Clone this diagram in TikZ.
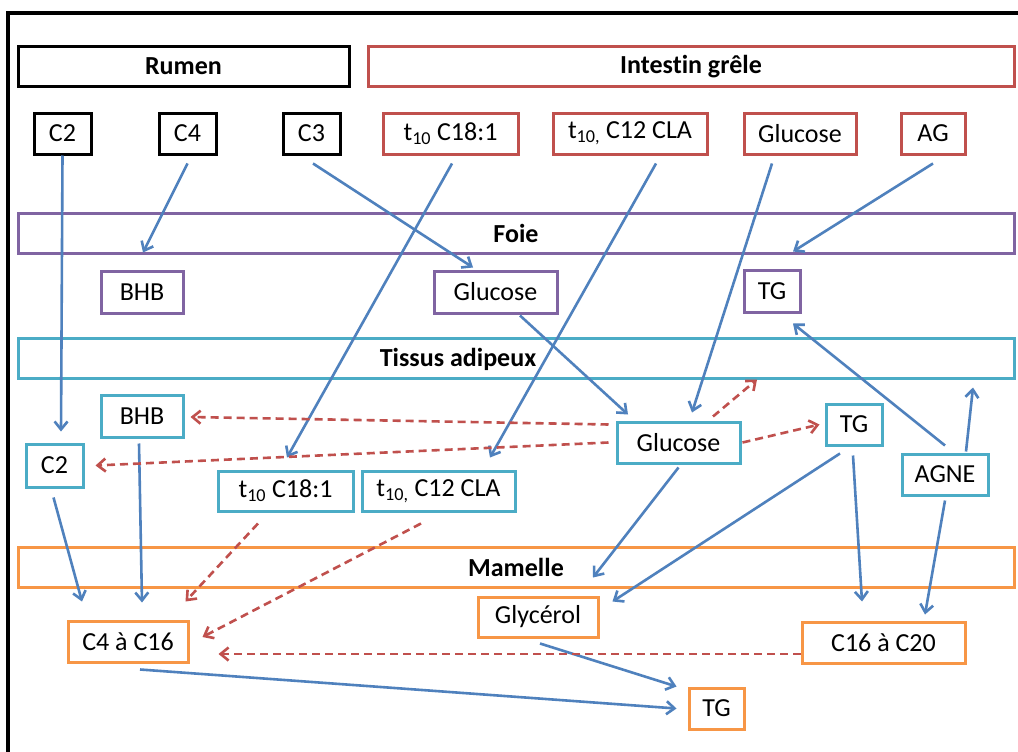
\documentclass[tikz,border=0pt]{standalone}
\usepackage{fontspec}
\setmainfont{Carlito}[Ligatures=NoCommon]
\usetikzlibrary{arrows.meta}
\definecolor{cred}{HTML}{C0504D}
\definecolor{cpurple}{HTML}{8064A2}
\definecolor{ccyan}{HTML}{4BACC6}
\definecolor{corange}{HTML}{F79646}
\definecolor{cblue}{HTML}{4F81BD}
\begin{document}
\begin{tikzpicture}[x=1pt,y=-1pt,
  box/.style={draw,line width=3pt,inner sep=0pt,font=\fontsize{26}{30}\selectfont},
  band/.style={box,minimum width=996pt,minimum height=40pt,font=\fontsize{26}{30}\selectfont\bfseries},
  bandlabel/.style={inner sep=0pt,font=\fontsize{26}{30}\selectfont\bfseries},
  flow/.style={draw=cblue,line width=2.6pt,-{Straight Barb[length=8pt,width=13pt]}},
  back/.style={draw=cred,line width=2.6pt,dash pattern=on 8pt off 5pt,-{Straight Barb[length=8pt,width=13pt]}}]
\useasboundingbox (0,0) rectangle (1018,752);
\fill[white] (0,0) rectangle (1018,752);
\draw[line width=3.5pt] (8,752) -- (8,13) -- (1018,13);

% headers
\node[box,draw=black,minimum width=331pt,minimum height=40pt,font=\fontsize{26}{30}\selectfont\bfseries] (rumen) at (183.5,66.5) {Rumen};
\node[box,draw=cred,minimum width=646pt,minimum height=40pt,font=\fontsize{26}{30}\selectfont\bfseries] (intestin) at (691,66.5) {Intestin grêle};

% top row
\node[box,draw=black,minimum width=57pt,minimum height=41pt] (c2t) at (62.5,133.5) {C2};
\node[box,draw=black,minimum width=57pt,minimum height=41pt] (c4t) at (187.5,133.5) {C4};
\node[box,draw=black,minimum width=57pt,minimum height=41pt] (c3t) at (311.5,133.5) {C3};
\node[box,draw=cred,minimum width=135pt,minimum height=41pt] (t18r) at (450.5,133.5) {t\textsubscript{10} C18:1};
\node[box,draw=cred,minimum width=154pt,minimum height=41pt] (clar) at (630,133.5) {t\textsubscript{10,} C12 CLA};
\node[box,draw=cred,minimum width=112pt,minimum height=41pt] (glur) at (800,133.5) {Glucose};
\node[box,draw=cred,minimum width=64pt,minimum height=41pt] (agr) at (933,133.5) {AG};

% Foie
\node[band,draw=cpurple] (foie) at (516,233) {Foie};
\node[box,draw=cpurple,minimum width=82pt,minimum height=42pt] (bhbp) at (142,292) {BHB};
\node[box,draw=cpurple,minimum width=123pt,minimum height=42pt] (glup) at (495.5,292) {Glucose};
\node[box,draw=cpurple,minimum width=56pt,minimum height=42pt] (tgp) at (772,291) {TG};

% Tissus adipeux
\node[band,draw=ccyan] (tissus) at (516,358) {};
\node[bandlabel] (tissusl) at (458,359) {Tissus adipeux};
\node[box,draw=ccyan,minimum width=82pt,minimum height=42pt] (bhbc) at (142,416) {BHB};
\node[box,draw=ccyan,minimum width=57pt,minimum height=43pt] (c2c) at (54.5,465.5) {C2};
\node[box,draw=ccyan,minimum width=135pt,minimum height=40pt] (t18c) at (285.5,491) {t\textsubscript{10} C18:1};
\node[box,draw=ccyan,minimum width=153pt,minimum height=40pt] (clac) at (438.5,491) {t\textsubscript{10,} C12 CLA};
\node[box,draw=ccyan,minimum width=123pt,minimum height=41pt] (gluc) at (678.5,442.5) {Glucose};
\node[box,draw=ccyan,minimum width=56pt,minimum height=41pt] (tgc) at (854,424.5) {TG};
\node[box,draw=ccyan,minimum width=86pt,minimum height=41pt] (agne) at (945,474.5) {AGNE};

% Mamelle
\node[band,draw=corange] (mamelle) at (516,567) {Mamelle};
\node[box,draw=corange,minimum width=120pt,minimum height=41pt] (c4c16) at (128,641.5) {C4 à C16};
\node[box,draw=corange,minimum width=120pt,minimum height=40pt] (glyc) at (538,617) {Glycérol};
\node[box,draw=corange,minimum width=163pt,minimum height=41pt] (c16c20) at (883.5,642.5) {C16 à C20};
\node[box,draw=corange,minimum width=55pt,minimum height=41pt] (tgo) at (716.5,708.5) {TG};

% blue flows
\draw[flow] (c2t.south) -- ([xshift=6.5pt,yshift=11pt]c2c.north);
\draw[flow] ([yshift=-8pt]c4t.south) -- ([xshift=1pt,yshift=17pt]bhbp.north);
\draw[flow] ([xshift=1.5pt,yshift=-8pt]c3t.south) -- ([xshift=-22.5pt,yshift=2pt]glup.north);
\draw[flow] ([xshift=1.5pt,yshift=-8pt]t18r.south) -- ([xshift=1.5pt,yshift=12pt]t18c.north);
\draw[flow] ([xshift=26pt,yshift=-8pt]clar.south) -- ([xshift=51.5pt,yshift=12pt]clac.north);
\draw[flow] ([xshift=-28pt,yshift=-8pt]glur.south) -- ([xshift=13.5pt,yshift=8pt]gluc.north);
\draw[flow] ([yshift=-8pt]agr.south) -- ([xshift=21pt,yshift=17pt]tgp.north);
\draw[flow] ([xshift=24.5pt,yshift=-1pt]glup.south) -- ([xshift=-50.5pt,yshift=6pt]gluc.north);
\draw[flow] ([yshift=7pt]agne.north) -- ([xshift=21pt,yshift=-10pt]tgp.south);
\draw[flow] ([xshift=21pt,yshift=1pt]agne.north) -- ([xshift=457pt,yshift=-8pt]tissus.south);
\draw[flow] ([yshift=-3pt]gluc.south) -- ([xshift=55pt,yshift=18pt]glyc.north);
\draw[flow] ([xshift=-14pt,yshift=-7pt]tgc.south) -- ([xshift=13pt,yshift=-6pt]glyc.north east);
\draw[flow] ([xshift=-1pt,yshift=-9pt]tgc.south) -- ([xshift=-21.5pt,yshift=19pt]c16c20.north);
\draw[flow] ([yshift=-4pt]agne.south) -- ([xshift=41.5pt,yshift=6pt]c16c20.north);
\draw[flow] ([xshift=-1pt,yshift=-9pt]c2c.south) -- ([xshift=-46pt,yshift=18pt]c4c16.north);
\draw[flow] ([xshift=-3pt,yshift=-5pt]bhbc.south) -- ([xshift=14pt,yshift=17pt]c4c16.north);
\draw[flow] ([xshift=2pt,yshift=-5pt]glyc.south) -- ([xshift=-11pt]tgo.north west);
\draw[flow] ([xshift=12pt,yshift=-6pt]c4c16.south) -- ([xshift=-11pt]tgo.west);

% red dashed
\draw[back] ([xshift=-7pt,yshift=-4pt]gluc.north west) -- ([xshift=6pt,yshift=-1pt]bhbc.east);
\draw[back] ([xshift=-7pt]gluc.west) -- ([xshift=11pt]c2c.east);
\draw[back] ([xshift=34.5pt,yshift=4pt]gluc.north) -- ([xshift=78.5pt,yshift=41pt]gluc.north);
\draw[back] ([xshift=1pt]gluc.east) -- ([xshift=-5pt]tgc.west);
\draw[back] ([xshift=-27.5pt,yshift=-11pt]t18c.south) -- ([xshift=-4pt,yshift=18pt]c4c16.north east);
\draw[back] ([xshift=-17.5pt,yshift=-11pt]clac.south) -- ([xshift=13pt,yshift=4.5pt]c4c16.east);
\draw[back] ([yshift=-11.5pt]c16c20.west) -- ([xshift=29pt,yshift=-12.5pt]c4c16.east);
\end{tikzpicture}
\end{document}
